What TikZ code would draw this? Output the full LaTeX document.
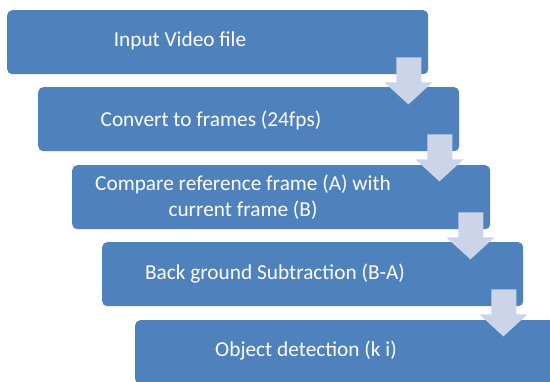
\documentclass[tikz,border=0pt]{standalone}
\usepackage{fontspec}
\setmainfont{Carlito}
\usetikzlibrary{calc}
\definecolor{boxblue}{RGB}{79,129,189}
\definecolor{arrowgray}{RGB}{203,212,232}
\tikzset{
  stepbox/.style={fill=boxblue, rounded corners=5pt, inner sep=0pt, anchor=north west,
    minimum height=64pt},
  steptext/.style={text=white, font=\fontsize{21.3}{26}\selectfont, align=center, inner sep=0pt}
}
\begin{document}
\begin{tikzpicture}[x=1pt,y=-1pt]
\useasboundingbox (0,0) rectangle (550,381);
\clip (0,0) rectangle (550,381);
%\fill[white] (0,0) rectangle (550,381);
\node[stepbox, minimum width=421pt] (b1) at (7,10) {};
\node[stepbox, minimum width=421pt] (b2) at (38,87) {};
\node[stepbox, minimum width=418pt] (b3) at (72,165) {};
\node[stepbox, minimum width=421pt] (b4) at (102,242) {};
\node[stepbox, minimum width=430pt] (b5) at (135,320) {};
\node[steptext] (t1) at (180,41) {Input Video file};
\node[steptext] (t2) at (211,120) {Convert to frames (24fps)};
\node[steptext] (t3) at (243,197) {Compare reference frame (A) with\\current frame (B)};
\node[steptext] (t4) at (275,274) {Back ground Subtraction (B-A)};
\node[steptext] (t5) at (306,351) {Object detection (k i)};
% block arrows between the steps
\foreach \a/\b in {b1/b2,b2/b3,b3/b4,b4/b5}
  \fill[arrowgray] ($(\a.south east)+(-32,-17)$) -- ($(\a.south east)+(-7,-17)$)
    -- ($(\a.south east)+(-7,8)$) -- ($(\a.south east)+(4,8)$)
    -- ($(\a.south east)+(-20,30)$) -- ($(\a.south east)+(-44,8)$)
    -- ($(\a.south east)+(-32,8)$) -- cycle;
\end{tikzpicture}
\end{document}
